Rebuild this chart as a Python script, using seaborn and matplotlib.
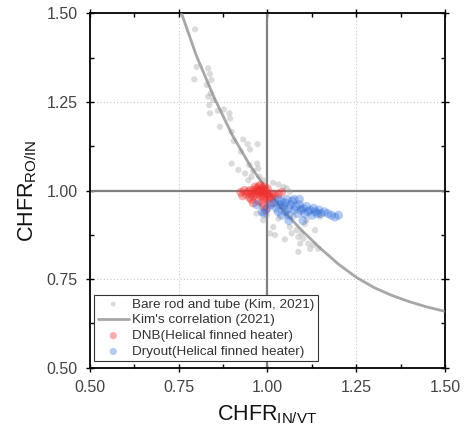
import matplotlib
matplotlib.use("Agg")
import matplotlib.pyplot as plt
import seaborn as sns
import pandas as pd
import numpy as np

# ---- data ----
bare_x = [0.796, 0.800, 0.794, 0.833, 0.838, 0.842, 0.829, 0.840, 0.833, 0.847, 0.836, 0.838,
          0.877, 0.866, 0.893, 0.895, 0.899, 0.932, 0.944, 0.972, 0.951, 0.899, 0.918, 0.937,
          0.949, 0.971, 0.974, 0.955, 0.946, 0.977, 0.988, 1.016, 1.031, 1.045, 1.063, 1.054,
          0.969, 0.988, 0.998, 1.016, 1.021, 1.007, 1.049, 1.063, 1.068, 1.082, 1.087, 1.092,
          1.087, 1.096, 1.101, 1.115, 1.134, 1.129, 1.143, 1.073, 1.110, 1.148, 1.045, 1.054,
          1.096, 1.031, 0.860, 0.905, 0.925, 0.960, 1.040, 1.120, 1.105]
bare_y = [1.455, 1.349, 1.314, 1.345, 1.329, 1.312, 1.298, 1.274, 1.265, 1.255, 1.241, 1.218,
          1.229, 1.180, 1.218, 1.203, 1.166, 1.144, 1.131, 1.131, 1.116, 1.076, 1.058, 1.048,
          1.072, 1.076, 1.062, 1.039, 1.029, 1.039, 1.029, 1.022, 1.017, 1.010, 0.996, 1.006,
          0.935, 0.916, 0.930, 0.897, 0.874, 0.879, 0.862, 0.897, 0.879, 0.888, 0.869, 0.850,
          0.827, 0.879, 0.864, 0.850, 0.888, 0.846, 0.836, 0.926, 0.916, 0.926, 0.954, 0.935,
          0.949, 0.921, 1.225, 1.140, 1.110, 1.055, 0.955, 0.835, 0.905]

corr_x = [0.758, 0.80, 0.85, 0.90, 0.95, 1.00, 1.05, 1.10, 1.15, 1.20, 1.25, 1.30, 1.35, 1.40, 1.45, 1.50]
corr_y = [1.500, 1.380, 1.262, 1.158, 1.072, 1.000, 0.937, 0.884, 0.836, 0.792, 0.755, 0.726, 0.704, 0.686, 0.671, 0.659]

dnb_x = [0.925, 0.93, 0.935, 0.94, 0.945, 0.95, 0.955, 0.96, 0.96, 0.965, 0.97, 0.97, 0.975, 0.975,
         0.98, 0.98, 0.985, 0.985, 0.99, 0.99, 0.995, 0.995, 1.0, 1.0, 1.005, 1.01, 1.015, 1.02,
         0.975, 0.985, 0.99, 0.96, 0.955, 1.03, 1.04, 0.98, 0.99, 1.0, 0.965, 0.95, 0.995, 1.01,
         0.978, 0.983, 0.988, 0.972]
dnb_y = [0.995, 0.985, 1.0, 0.99, 0.995, 1.0, 0.99, 0.985, 1.0, 0.995, 1.005, 0.99, 1.01, 0.995,
         1.0, 0.985, 1.005, 0.99, 0.995, 0.98, 1.0, 0.985, 0.99, 0.975, 0.985, 0.98, 0.99, 0.985,
         0.97, 0.965, 0.955, 0.965, 0.975, 0.99, 0.995, 1.015, 1.01, 1.005, 1.01, 0.98, 0.945, 0.965,
         1.0, 0.995, 1.0, 0.998]

dry_x = [0.97, 0.985, 0.99, 1.0, 1.01, 1.02, 1.025, 1.03, 1.035, 1.04, 1.045, 1.05, 1.05, 1.055,
         1.06, 1.06, 1.065, 1.07, 1.075, 1.08, 1.085, 1.09, 1.095, 1.1, 1.105, 1.11, 1.115, 1.12,
         1.125, 1.13, 1.135, 1.14, 1.145, 1.15, 1.16, 1.17, 1.18, 1.19, 1.2, 1.1, 1.06, 1.04,
         1.03, 1.075, 1.09]
dry_y = [0.96, 0.94, 0.935, 0.95, 0.96, 0.965, 0.95, 0.975, 0.96, 0.97, 0.955, 0.94, 0.965, 0.975,
         0.95, 0.93, 0.96, 0.97, 0.945, 0.955, 0.935, 0.96, 0.945, 0.95, 0.935, 0.955, 0.94, 0.945,
         0.93, 0.95, 0.94, 0.935, 0.945, 0.935, 0.94, 0.935, 0.93, 0.925, 0.93, 0.915, 0.915, 0.93,
         0.94, 0.975, 0.975]

ticks = [0.50, 0.75, 1.00, 1.25, 1.50]
tick_labels = ["0.50", "0.75", "1.00", "1.25", "1.50"]

# ---- style ----
sns.set_style("white")
plt.rcParams['font.family'] = ['Liberation Sans', 'DejaVu Sans']
plt.rcParams['mathtext.fontset'] = 'custom'
plt.rcParams['mathtext.rm'] = 'Liberation Sans'

fig = plt.figure(figsize=(4.66, 4.32), dpi=100)
ax = fig.add_axes([0.193, 0.149, 0.762, 0.820])

# grid and reference lines
for v in (0.75, 1.25):
    ax.axvline(v, color='#c8c8c8', lw=0.8, ls=(0, (1, 2)), zorder=0)
    ax.axhline(v, color='#c8c8c8', lw=0.8, ls=(0, (1, 2)), zorder=0)
ax.axvline(1.0, color='#808080', lw=1.6, zorder=1)
ax.axhline(1.0, color='#808080', lw=1.6, zorder=1)

df_bare = pd.DataFrame({'x': bare_x, 'y': bare_y})
df_corr = pd.DataFrame({'x': corr_x, 'y': corr_y})
df_dnb = pd.DataFrame({'x': dnb_x, 'y': dnb_y})
df_dry = pd.DataFrame({'x': dry_x, 'y': dry_y})

sns.scatterplot(data=df_bare, x='x', y='y', ax=ax, color='#9a9a9a', alpha=0.35, s=20,
                edgecolor='none', label='Bare rod and tube (Kim, 2021)', zorder=2)
sns.lineplot(data=df_corr, x='x', y='y', ax=ax, color='#8a8a8a', alpha=0.75, lw=2,
             sort=False, estimator=None, label="Kim's correlation (2021)", zorder=3)
sns.scatterplot(data=df_dnb, x='x', y='y', ax=ax, color='#f03030', alpha=0.4, s=42,
                edgecolor='none', label='DNB(Helical finned heater)', zorder=4)
sns.scatterplot(data=df_dry, x='x', y='y', ax=ax, color='#2a6ad8', alpha=0.35, s=42,
                edgecolor='none', label='Dryout(Helical finned heater)', zorder=4)

ax.set_xlim(0.5, 1.5)
ax.set_ylim(0.5, 1.5)
ax.set_xticks(ticks)
ax.set_xticklabels(tick_labels)
ax.set_yticks(ticks)
ax.set_yticklabels(tick_labels)
ax.set_xticks([0.625, 0.875, 1.125, 1.375], minor=True)
ax.set_yticks([0.625, 0.875, 1.125, 1.375], minor=True)
ax.tick_params(which='major', direction='inout', length=6, width=1, pad=6,
               bottom=True, left=True, top=True, right=True,
               labelsize=11.5, labelcolor='#444444', color='black')
ax.tick_params(which='minor', direction='in', length=3, width=1,
               bottom=True, left=True, top=True, right=True, color='black')
for sp in ax.spines.values():
    sp.set_color('black')
    sp.set_linewidth(1.3)

ax.set_xlabel(r'CHFR$_{\mathregular{IN/VT}}$', fontsize=15.5, labelpad=6, color='#111111')
ax.set_ylabel(r'CHFR$_{\mathregular{RO/IN}}$', fontsize=15.5, labelpad=5, color='#111111')

leg = ax.legend(loc='lower left', bbox_to_anchor=(0.005, 0.01), fontsize=9.7, frameon=True,
                fancybox=False, framealpha=1, edgecolor='#333333', borderpad=0.25,
                labelspacing=0.25, handlelength=2.3, handletextpad=0.25, borderaxespad=0.2,
                markerscale=0.8)
leg.get_frame().set_linewidth(0.8)
for t in leg.get_texts():
    t.set_color('#333333')

fig.savefig('out.png', dpi=100)
